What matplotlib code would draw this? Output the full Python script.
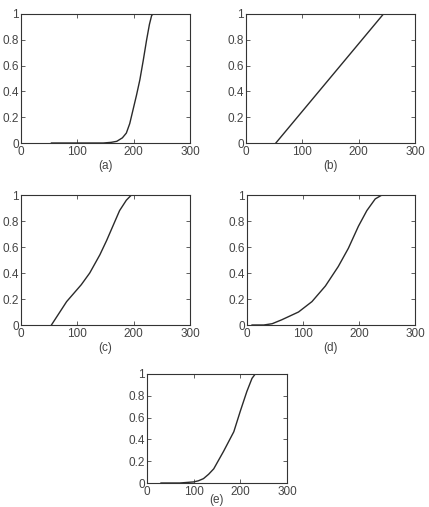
import matplotlib
matplotlib.use("Agg")
import matplotlib.pyplot as plt

plt.rcParams['font.family'] = ['Liberation Sans', 'DejaVu Sans']

# Panel data
a_x = [54, 100, 146, 160, 170, 180, 187, 193, 199, 205, 211, 217, 223, 228, 232, 235]
a_y = [0.0, 0.0, 0.0, 0.005, 0.013, 0.04, 0.077, 0.15, 0.26, 0.37, 0.49, 0.64, 0.80, 0.92, 0.99, 1.0]

b_x = [53, 244]
b_y = [0.0, 1.0]

c_x = [54, 81, 107, 122, 140, 152, 164, 175, 187, 196]
c_y = [0.0, 0.18, 0.31, 0.40, 0.54, 0.65, 0.77, 0.88, 0.96, 1.0]

d_x = [9, 30, 45, 62, 92, 116, 140, 163, 181, 199, 214, 229, 241]
d_y = [0.0, 0.0, 0.01, 0.04, 0.10, 0.18, 0.30, 0.45, 0.59, 0.76, 0.88, 0.97, 1.0]

e_x = [30, 70, 100, 110, 121, 132, 143, 164, 186, 200, 214, 225, 232]
e_y = [0.0, 0.0, 0.01, 0.02, 0.04, 0.08, 0.13, 0.29, 0.47, 0.66, 0.84, 0.96, 1.0]

panels = [
    ("(a)", a_x, a_y, [21, 14, 190, 143], 1),
    ("(b)", b_x, b_y, [246, 14, 415, 143], 1),
    ("(c)", c_x, c_y, [21, 195, 190, 325], 1),
    ("(d)", d_x, d_y, [247, 195, 415, 325], 1),
    ("(e)", e_x, e_y, [147, 374, 287, 483], -3),
]

xticks = [0, 100, 200, 300]
yticks = [0, 0.2, 0.4, 0.6, 0.8, 1]
yticklabels = ["0", "0.2", "0.4", "0.6", "0.8", "1"]

W, H = 429, 507
fig = plt.figure(figsize=(W / 100, H / 100), dpi=100)

for label, xs, ys, (l, t, r, b), lp in panels:
    ax = fig.add_axes([l / W, 1 - b / H, (r - l) / W, (b - t) / H])
    ax.plot(xs, ys, color='#2a2a2a', lw=1.0)
    ax.set_xlim(0, 300)
    ax.set_ylim(0, 1)
    ax.set_xticks(xticks)
    ax.set_xticklabels([str(v) for v in xticks])
    ax.set_yticks(yticks)
    ax.set_yticklabels(yticklabels)
    ax.tick_params(direction='in', length=3, width=0.6, top=True, right=True,
                   labelsize=8.5, labelcolor='#444444', color='#444444')
    ax.tick_params(axis='x', pad=2.5)
    ax.tick_params(axis='y', pad=1.5)
    for s in ax.spines.values():
        s.set_color('#333333')
        s.set_linewidth(0.8)
    ax.set_xlabel(label, fontsize=8.5, color='#444444', labelpad=lp)

fig.savefig("out.png", dpi=100, facecolor='white')
